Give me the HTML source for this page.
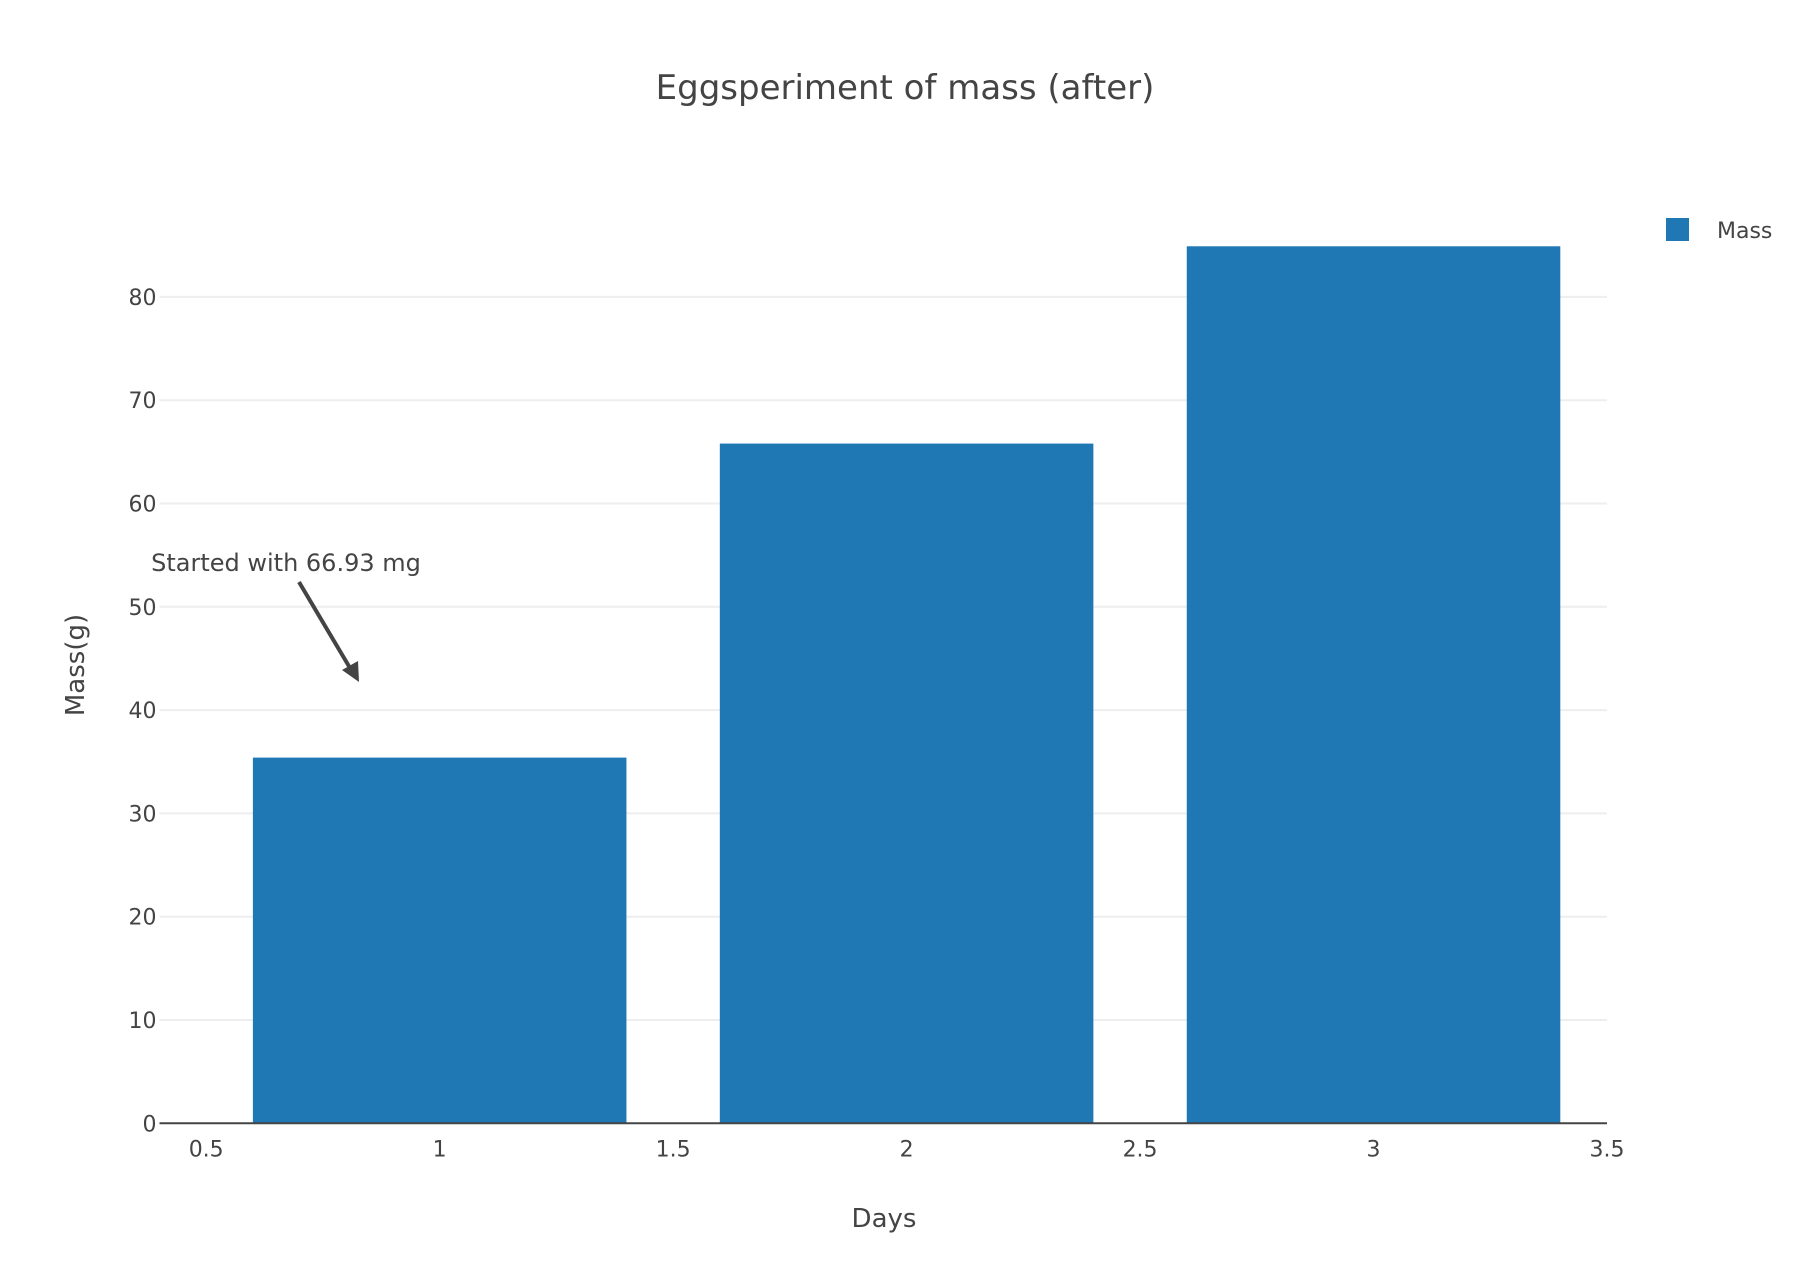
<!DOCTYPE html>
<html><head><meta charset="utf-8"><style>
html,body{margin:0;padding:0;background:#fff;}
svg{display:block;font-family:"DejaVu Sans","Liberation Sans",sans-serif;}
</style></head><body>
<svg id="chart" width="1810" height="1284" viewBox="0 0 1810 1284">
<rect width="1810" height="1284" fill="#fff"/>
<g id="grid"></g>
<g id="bars"></g>
<g id="xaxis"></g>
<g id="yaxis"></g>
<text x="905" y="99" text-anchor="middle" font-size="34" fill="#444">Eggsperiment of mass (after)</text>
<text x="884" y="1227" text-anchor="middle" font-size="26" fill="#444">Days</text>
<text transform="translate(84,665) rotate(-90)" text-anchor="middle" font-size="26" fill="#444">Mass(g)</text>
<g>
<rect x="1666" y="218" width="23" height="23" fill="#1f77b4"/>
<text x="1717" y="238" font-size="22" fill="#444">Mass</text>
</g>
<g>
<text x="286" y="571" text-anchor="middle" font-size="24" fill="#444">Started with 66.93 mg</text>
<line x1="299" y1="582" x2="350" y2="668" stroke="#444" stroke-width="4"/>
<polygon points="359,682 342,670 358,661" fill="#444"/>
</g>
</svg>
<script>
const categories = [1, 2, 3];
const massValues = [35.4, 65.8, 84.9];
const xTicks = [0.5, 1, 1.5, 2, 2.5, 3, 3.5];
const yTicks = [0, 10, 20, 30, 40, 50, 60, 70, 80];
const barWidth = 0.8;

const ns = 'http://www.w3.org/2000/svg';
const X0 = 159.5, X1 = 1607, XMIN = 0.4, XMAX = 3.5;
const Y0 = 1123.3, PXPER10 = 103.3;
const xs = v => X0 + (v - XMIN) / (XMAX - XMIN) * (X1 - X0);
const ys = v => Y0 - v / 10 * PXPER10;
function mk(tag, attrs, parent) {
  const e = document.createElementNS(ns, tag);
  for (const k in attrs) e.setAttribute(k, attrs[k]);
  parent.appendChild(e);
  return e;
}
const grid = document.getElementById('grid');
const bars = document.getElementById('bars');
const xa = document.getElementById('xaxis');
const ya = document.getElementById('yaxis');

yTicks.forEach(t => {
  if (t > 0) {
    const l = mk('line', {x1: X0, x2: X1, y1: ys(t), y2: ys(t), stroke: '#eee', 'stroke-width': 2}, grid);
    
    
  }
  const tx = mk('text', {x: X0 - 3, y: ys(t) + 8, 'text-anchor': 'end', 'font-size': 22, fill: '#444'}, ya);
  tx.textContent = t;
  
  
});

categories.forEach((c, i) => {
  const v = massValues[i];
  const r = mk('rect', {x: xs(c - barWidth / 2), y: ys(v), width: xs(c + barWidth / 2) - xs(c - barWidth / 2), height: Y0 - ys(v), fill: '#1f77b4'}, bars);
  
  
});

const axl = mk('line', {x1: X0, x2: X1, y1: Y0, y2: Y0, stroke: '#444', 'stroke-width': 2}, xa);


xTicks.forEach(t => {
  const tx = mk('text', {x: xs(t), y: Y0 + 33, 'text-anchor': 'middle', 'font-size': 22, fill: '#444'}, xa);
  tx.textContent = t;
  
  
});
</script>
</body></html>
